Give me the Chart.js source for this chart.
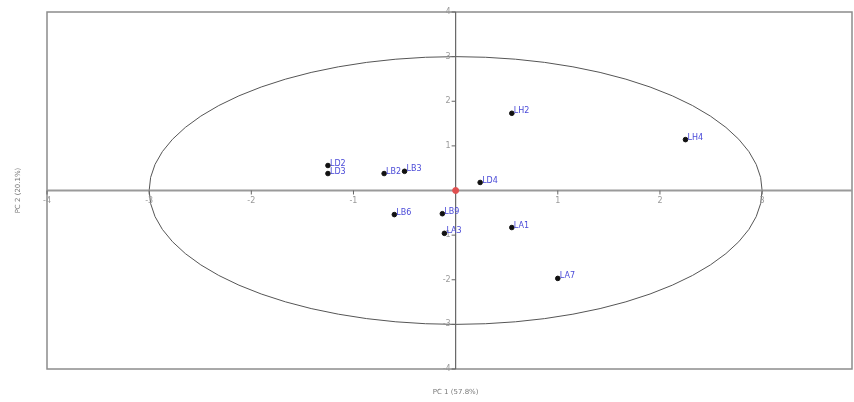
<!DOCTYPE html>
<html>
<head>
<meta charset="utf-8">
<script src="https://cdn.jsdelivr.net/npm/chart.js@4.4.1/dist/chart.umd.min.js"></script>
<style>
  html, body { margin: 0; padding: 0; background: #fff; }
  #wrap { width: 854px; height: 402px; }
</style>
</head>
<body>
<div id="wrap"><canvas id="pca"></canvas></div>
<script>
// sample names and scores
const sampleNames = ['LD2', 'LD3', 'LB2', 'LB3', 'LD4', 'LH2', 'LH4', 'LB6', 'LB9', 'LA3', 'LA1', 'LA7'];
const pc1Scores = [-1.25, -1.25, -0.70, -0.50, 0.24, 0.55, 2.25, -0.60, -0.13, -0.11, 0.55, 1.00];
const pc2Scores = [0.56, 0.38, 0.38, 0.43, 0.18, 1.73, 1.14, -0.54, -0.52, -0.96, -0.83, -1.97];
const xTicks = [-4, -3, -2, -1, 1, 2, 3];
const yTicks = [4, 3, 2, 1, -1, -2, -3, -4];
const xTitle = 'PC 1 (57.8%)';
const yTitle = 'PC 2 (20.1%)';

const points = sampleNames.map((n, i) => ({ x: pc1Scores[i], y: pc2Scores[i] }));

const frame = {
    id: 'frame',
    beforeDatasetsDraw(chart) {
        const { ctx, chartArea: a, scales: { x, y } } = chart;
        const x0 = x.getPixelForValue(0), y0 = y.getPixelForValue(0);
        ctx.save();
        // box
        ctx.strokeStyle = '#8c8c8c';
        ctx.lineWidth = 1.5;
        ctx.strokeRect(a.left, a.top, a.right - a.left, a.bottom - a.top);
        // ellipse (95% limit, radius 3 on both axes)
        ctx.strokeStyle = '#555';
        ctx.lineWidth = 1;
        ctx.beginPath();
        ctx.ellipse(x0, y0, x.getPixelForValue(3) - x0, y0 - y.getPixelForValue(3), 0, 0, Math.PI * 2);
        ctx.stroke();
        // axes through origin
        ctx.strokeStyle = '#9a9a9a';
        ctx.lineWidth = 2;
        ctx.beginPath();
        ctx.moveTo(a.left, y0); ctx.lineTo(a.right, y0);
        ctx.stroke();
        ctx.strokeStyle = '#666';
        ctx.lineWidth = 1.2;
        ctx.beginPath();
        ctx.moveTo(x0, a.top); ctx.lineTo(x0, a.bottom);
        ctx.stroke();
        // ticks
        ctx.fillStyle = '#999';
        ctx.font = '8px "DejaVu Sans"';
        ctx.strokeStyle = '#666';
        ctx.lineWidth = 1;
        ctx.textAlign = 'center';
        ctx.textBaseline = 'top';
        xTicks.forEach(v => {
            const px = x.getPixelForValue(v);
            ctx.beginPath(); ctx.moveTo(px, y0); ctx.lineTo(px, y0 + 4); ctx.stroke();
            ctx.fillText(String(v), px, y0 + 6);
        });
        ctx.textAlign = 'right';
        ctx.textBaseline = 'middle';
        yTicks.forEach(v => {
            const py = y.getPixelForValue(v);
            ctx.beginPath(); ctx.moveTo(x0 - 4, py); ctx.lineTo(x0, py); ctx.stroke();
            ctx.fillText(String(v), x0 - 5, py);
        });
        // axis titles
        ctx.font = '7px "DejaVu Sans"';
        ctx.fillStyle = '#777';
        ctx.textAlign = 'center';
        ctx.fillText(xTitle, x0, 392);
        ctx.translate(18, y0);
        ctx.rotate(-Math.PI / 2);
        ctx.fillText(yTitle, 0, 0);
        ctx.restore();
    },
    afterDatasetsDraw(chart) {
        const { ctx } = chart;
        const meta = chart.getDatasetMeta(0);
        ctx.save();
        ctx.fillStyle = '#4a4ad8';
        ctx.font = '8px "DejaVu Sans"';
        ctx.textAlign = 'left';
        ctx.textBaseline = 'bottom';
        meta.data.forEach((el, i) => {
            ctx.fillText(sampleNames[i], el.x + 2, el.y + 2);
        });
        ctx.restore();
    }
};

new Chart(document.getElementById('pca'), {
    type: 'scatter',
    data: {
        datasets: [
            {
                data: points,
                backgroundColor: '#111',
                borderColor: '#111',
                pointRadius: 2.3,
                pointHoverRadius: 2.3
            },
            {
                data: [{ x: 0, y: 0 }],
                backgroundColor: '#e05050',
                borderColor: '#e05050',
                pointRadius: 3
            }
        ]
    },
    options: {
        responsive: true,
        maintainAspectRatio: false,
        animation: false,
        layout: { autoPadding: false, padding: { left: 47, right: 2, top: 12, bottom: 33 } },
        scales: {
            x: { type: 'linear', min: -4, max: 3.88, display: false },
            y: { type: 'linear', min: -4, max: 4, display: false }
        },
        plugins: {
            legend: { display: false },
            tooltip: { enabled: false }
        }
    },
    plugins: [frame]
});
</script>
</body>
</html>
